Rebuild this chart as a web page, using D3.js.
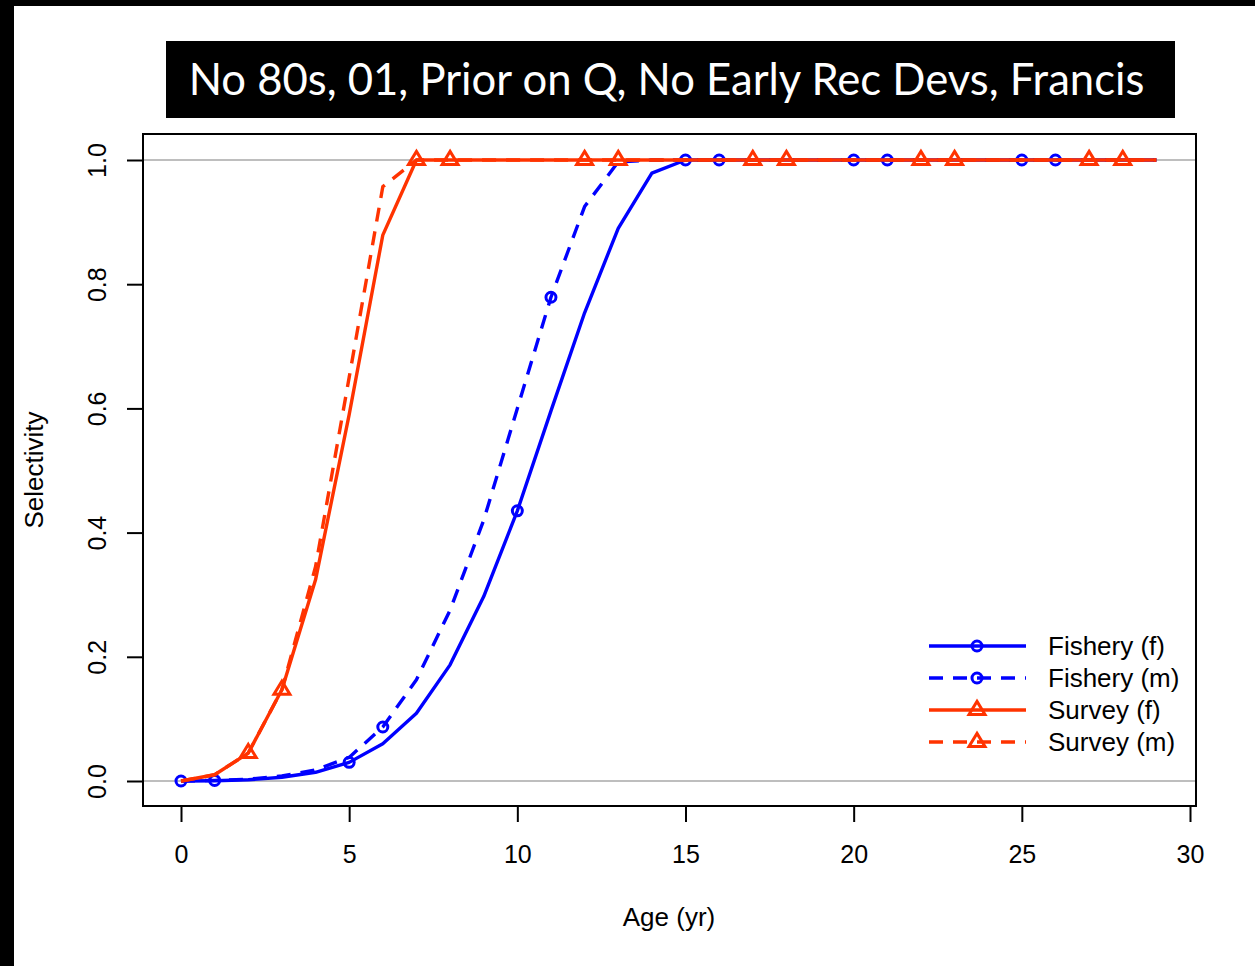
<!DOCTYPE html>
<html>
<head>
<meta charset="utf-8">
<script src="https://cdn.jsdelivr.net/npm/d3@7"></script>
<style>
  html, body { margin: 0; padding: 0; background: #fff; }
  svg { display: block; }
</style>
</head>
<body>
<script>
// ---- data ----
const titleText = "No 80s, 01, Prior on Q, No Early Rec Devs, Francis";
const ages = d3.range(0, 30);
const fisheryF = [0, 0.0005, 0.002, 0.006, 0.014, 0.030, 0.060, 0.109, 0.187, 0.297,
                  0.435, 0.596, 0.754, 0.890, 0.979, 1, 1, 1, 1, 1,
                  1, 1, 1, 1, 1, 1, 1, 1, 1, 1];
const fisheryM = [0, 0.001, 0.003, 0.008, 0.018, 0.038, 0.087, 0.163, 0.275, 0.42,
                  0.60, 0.779, 0.925, 0.997, 1, 1, 1, 1, 1, 1,
                  1, 1, 1, 1, 1, 1, 1, 1, 1, 1];
const surveyF = [0, 0.01, 0.045, 0.147, 0.324, 0.59, 0.879, 1, 1, 1,
                 1, 1, 1, 1, 1, 1, 1, 1, 1, 1,
                 1, 1, 1, 1, 1, 1, 1, 1, 1, 1];
const surveyM = [0, 0.01, 0.045, 0.147, 0.345, 0.65, 0.957, 1, 1, 1,
                 1, 1, 1, 1, 1, 1, 1, 1, 1, 1,
                 1, 1, 1, 1, 1, 1, 1, 1, 1, 1];
const seriesNames = ["Fishery (f)", "Fishery (m)", "Survey (f)", "Survey (m)"];
const seriesColors = ["#0000ff", "#0000ff", "#ff3300", "#ff3300"];
const seriesDashed = [false, true, false, true];
const seriesMarker = ["circle", "circle", "triangle", "triangle"];
const markerOffset = [0, 1, 2, 3];
const xTicks = [0, 5, 10, 15, 20, 25, 30];
const yTicks = [0, 0.2, 0.4, 0.6, 0.8, 1.0];
const refLines = [0, 1];

const seriesValues = [fisheryF, fisheryM, surveyF, surveyM];

// ---- layout ----
const W = 1255, H = 966;
const box = {left: 143, top: 134, right: 1196, bottom: 806};
const x = d3.scaleLinear().domain([0, 30]).range([181, 1190]);
const y = d3.scaleLinear().domain([0, 1]).range([781, 160]);
const DASH = "14,10";
const LW = 3.4;

const svg = d3.select("body").append("svg").attr("width", W).attr("height", H);
svg.append("rect").attr("width", W).attr("height", H).attr("fill", "#fff");
// black frame pieces
svg.append("rect").attr("x", 0).attr("y", 0).attr("width", W).attr("height", 6).attr("fill", "#000");
svg.append("rect").attr("x", 0).attr("y", 0).attr("width", 14).attr("height", H).attr("fill", "#000");

// title
const tb = {x: 166, y: 41, w: 1009, h: 77};
svg.append("rect").attr("x", tb.x).attr("y", tb.y).attr("width", tb.w).attr("height", tb.h).attr("fill", "#000");
const title = svg.append("text")
  .attr("x", tb.x + tb.w / 2 - 4).attr("y", 95)
  .attr("text-anchor", "middle")
  .attr("fill", "#fff")
  .attr("font-family", "Lato, 'Open Sans', sans-serif")
  .attr("font-size", 40)
  .text(titleText);
{
  const len = title.node().getComputedTextLength();
  const target = 956;
  title.attr("font-size", 40 * target / len);
}

const font = "'Liberation Sans', Arial, sans-serif";

// reference lines
svg.selectAll(".ref").data(refLines).enter().append("line")
  .attr("x1", box.left).attr("x2", box.right)
  .attr("y1", d => y(d)).attr("y2", d => y(d))
  .attr("stroke", "#bebebe").attr("stroke-width", 2);

// series lines
const line = d3.line().x((d, i) => x(ages[i])).y(d => y(d));
svg.append("clipPath").attr("id", "clip").append("rect")
  .attr("x", box.left).attr("y", box.top).attr("width", box.right - box.left).attr("height", box.bottom - box.top);
const plot = svg.append("g").attr("clip-path", "url(#clip)");

function triPath(s) {
  return `M0,${-s * 1.0}L${s * 1.05},${s * 0.72}L${-s * 1.05},${s * 0.72}Z`;
}

function drawMarker(g, type, cx, cy, color) {
  if (type === "circle") {
    g.append("circle").attr("cx", cx).attr("cy", cy).attr("r", 5)
      .attr("fill", "none").attr("stroke", color).attr("stroke-width", 3);
  } else {
    g.append("path").attr("d", triPath(7.6)).attr("transform", `translate(${cx},${cy - 1})`)
      .attr("fill", "none").attr("stroke", color).attr("stroke-width", 3).attr("stroke-linejoin", "miter");
  }
}

seriesValues.forEach((vals, s) => {
  plot.append("path").datum(vals).attr("d", line)
    .attr("fill", "none").attr("stroke", seriesColors[s]).attr("stroke-width", LW)
    .attr("stroke-dasharray", seriesDashed[s] ? DASH : null)
    .attr("stroke-linejoin", "round");
  vals.forEach((v, i) => {
    if (i % 5 === markerOffset[s]) drawMarker(plot, seriesMarker[s], x(ages[i]), y(v), seriesColors[s]);
  });
});

// box
svg.append("rect").attr("x", box.left).attr("y", box.top)
  .attr("width", box.right - box.left).attr("height", box.bottom - box.top)
  .attr("fill", "none").attr("stroke", "#000").attr("stroke-width", 2);

// x axis
const xAxis = svg.append("g").attr("transform", `translate(0,${box.bottom})`)
  .call(d3.axisBottom(x).tickValues(xTicks).tickSize(16).tickPadding(23).tickFormat(d3.format("d")));
xAxis.select(".domain").remove();
xAxis.selectAll(".tick line").attr("stroke", "#000").attr("stroke-width", 2);
xAxis.selectAll(".tick text").attr("font-family", font).attr("font-size", 25).attr("fill", "#000");

// y axis
const yAxis = svg.append("g").attr("transform", `translate(${box.left},0)`)
  .call(d3.axisLeft(y).tickValues(yTicks).tickSize(16).tickFormat(d3.format(".1f")));
yAxis.select(".domain").remove();
yAxis.selectAll(".tick line").attr("stroke", "#000").attr("stroke-width", 2);
yAxis.selectAll(".tick text")
  .attr("font-family", font).attr("font-size", 25).attr("fill", "#000")
  .attr("text-anchor", "middle").attr("dy", null)
  .attr("x", null)
  .attr("transform", "translate(-46,0) rotate(-90)")
  .attr("dominant-baseline", "central");

// axis titles
svg.append("text").attr("x", 669).attr("y", 926).attr("text-anchor", "middle")
  .attr("font-family", font).attr("font-size", 26).text("Age (yr)");
svg.append("text").attr("transform", "translate(43,470) rotate(-90)").attr("text-anchor", "middle")
  .attr("font-family", font).attr("font-size", 26).text("Selectivity");

// legend
const lg = svg.append("g");
seriesNames.forEach((name, s) => {
  const ly = 646 + s * 32;
  lg.append("line").attr("x1", 929).attr("x2", 1026).attr("y1", ly).attr("y2", ly)
    .attr("stroke", seriesColors[s]).attr("stroke-width", LW)
    .attr("stroke-dasharray", seriesDashed[s] ? DASH : null);
  drawMarker(lg, seriesMarker[s], 977, ly, seriesColors[s]);
  lg.append("text").attr("x", 1048).attr("y", ly).attr("dy", "0.35em")
    .attr("font-family", font).attr("font-size", 26).text(name);
});
</script>
</body>
</html>
